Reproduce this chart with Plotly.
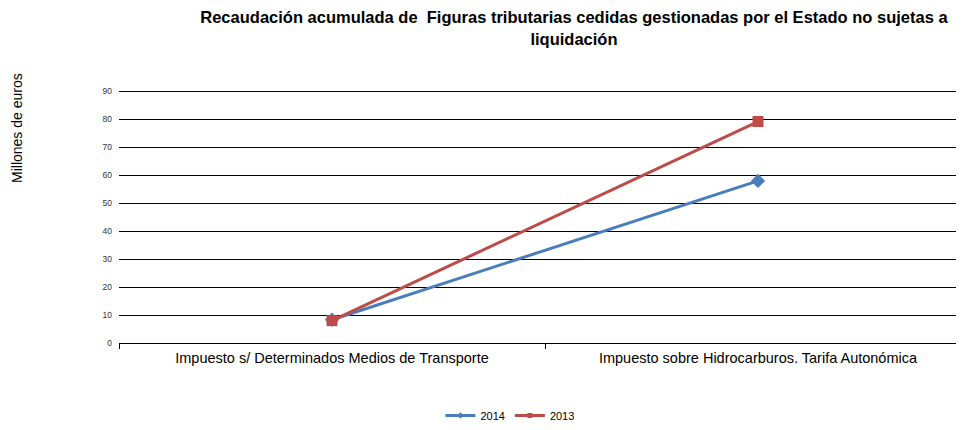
import plotly.graph_objects as go

categories = ["Impuesto s/ Determinados Medios de Transporte",
              "Impuesto sobre Hidrocarburos. Tarifa Autonómica"]
series_2014 = [8.3, 57.9]
series_2013 = [8.0, 79.1]
y_ticks = [0, 10, 20, 30, 40, 50, 60, 70, 80, 90]

FONT = "Liberation Sans, Arial, sans-serif"
BLUE = "#4a7ebb"
RED = "#be4b48"

# The browser page has an 8px body margin; the figure is sized to fill the rest.
W, H = 956, 422
L, T, B = 111, 79, 87
PW = W - L
PH = H - T - B
YMAX = 90 + (PH - 252) / 2.8

fig = go.Figure()
fig.add_trace(go.Scatter(
    x=categories, y=series_2014, name="2014", mode="lines+markers",
    line=dict(color=BLUE, width=3),
    marker=dict(symbol="diamond", size=11, color=BLUE),
    showlegend=False,
))
fig.add_trace(go.Scatter(
    x=categories, y=series_2013, name="2013", mode="lines+markers",
    line=dict(color=RED, width=3),
    marker=dict(symbol="square", size=11, color=RED),
    showlegend=False,
))
# legend-only entries with small markers, as in the reference legend
fig.add_trace(go.Scatter(
    x=[None], y=[None], name="2014", mode="lines+markers",
    line=dict(color=BLUE, width=3),
    marker=dict(symbol="diamond", size=5, color=BLUE),
))
fig.add_trace(go.Scatter(
    x=[None], y=[None], name="2013", mode="lines+markers",
    line=dict(color=RED, width=3),
    marker=dict(symbol="square", size=5, color=RED),
))

fig.update_layout(
    width=W, height=H,
    margin=dict(l=L, r=0, t=T, b=B, autoexpand=False),
    paper_bgcolor="white", plot_bgcolor="white",
    font=dict(family=FONT, color="#000"),
    title=dict(
        text="<b>Recaudación acumulada de&nbsp; Figuras tributarias cedidas gestionadas por el Estado no sujetas a<br>liquidación</b>",
        xref="container", x=0.592, xanchor="center",
        yref="container", y=0.964, yanchor="middle",
        font=dict(size=16.5, family=FONT, color="#000"),
    ),
    xaxis=dict(
        type="category", range=[-0.5, -0.5 + PW / 426],
        tickson="boundaries", ticks="outside", ticklen=5, tickcolor="#000",
        showline=True, linecolor="#000", linewidth=1,
        showgrid=False, tickfont=dict(size=14.5, color="#000"),
        ticklabelstandoff=2, automargin=False,
    ),
    yaxis=dict(
        range=[0, YMAX], tickvals=y_ticks, ticks="", showline=False,
        showgrid=True, gridcolor="#000", gridwidth=1, zeroline=False,
        tickfont=dict(size=8.5, color="#333"), ticklabelstandoff=6,
        automargin=False,
    ),
    showlegend=True,
    legend=dict(
        orientation="h", xref="container", yref="container",
        x=0.525, xanchor="center", y=0.0, yanchor="bottom",
        font=dict(size=11, color="#000"), itemwidth=30,
        tracegroupgap=0,
    ),
    annotations=[dict(
        text="Millones de euros", textangle=-90,
        xref="paper", yref="paper", x=(9 - L) / PW, xanchor="center",
        y=(335 - 120) / PH, yanchor="middle", showarrow=False,
        font=dict(size=14, color="#000"),
    )],
)

fig.write_html("out.html")
